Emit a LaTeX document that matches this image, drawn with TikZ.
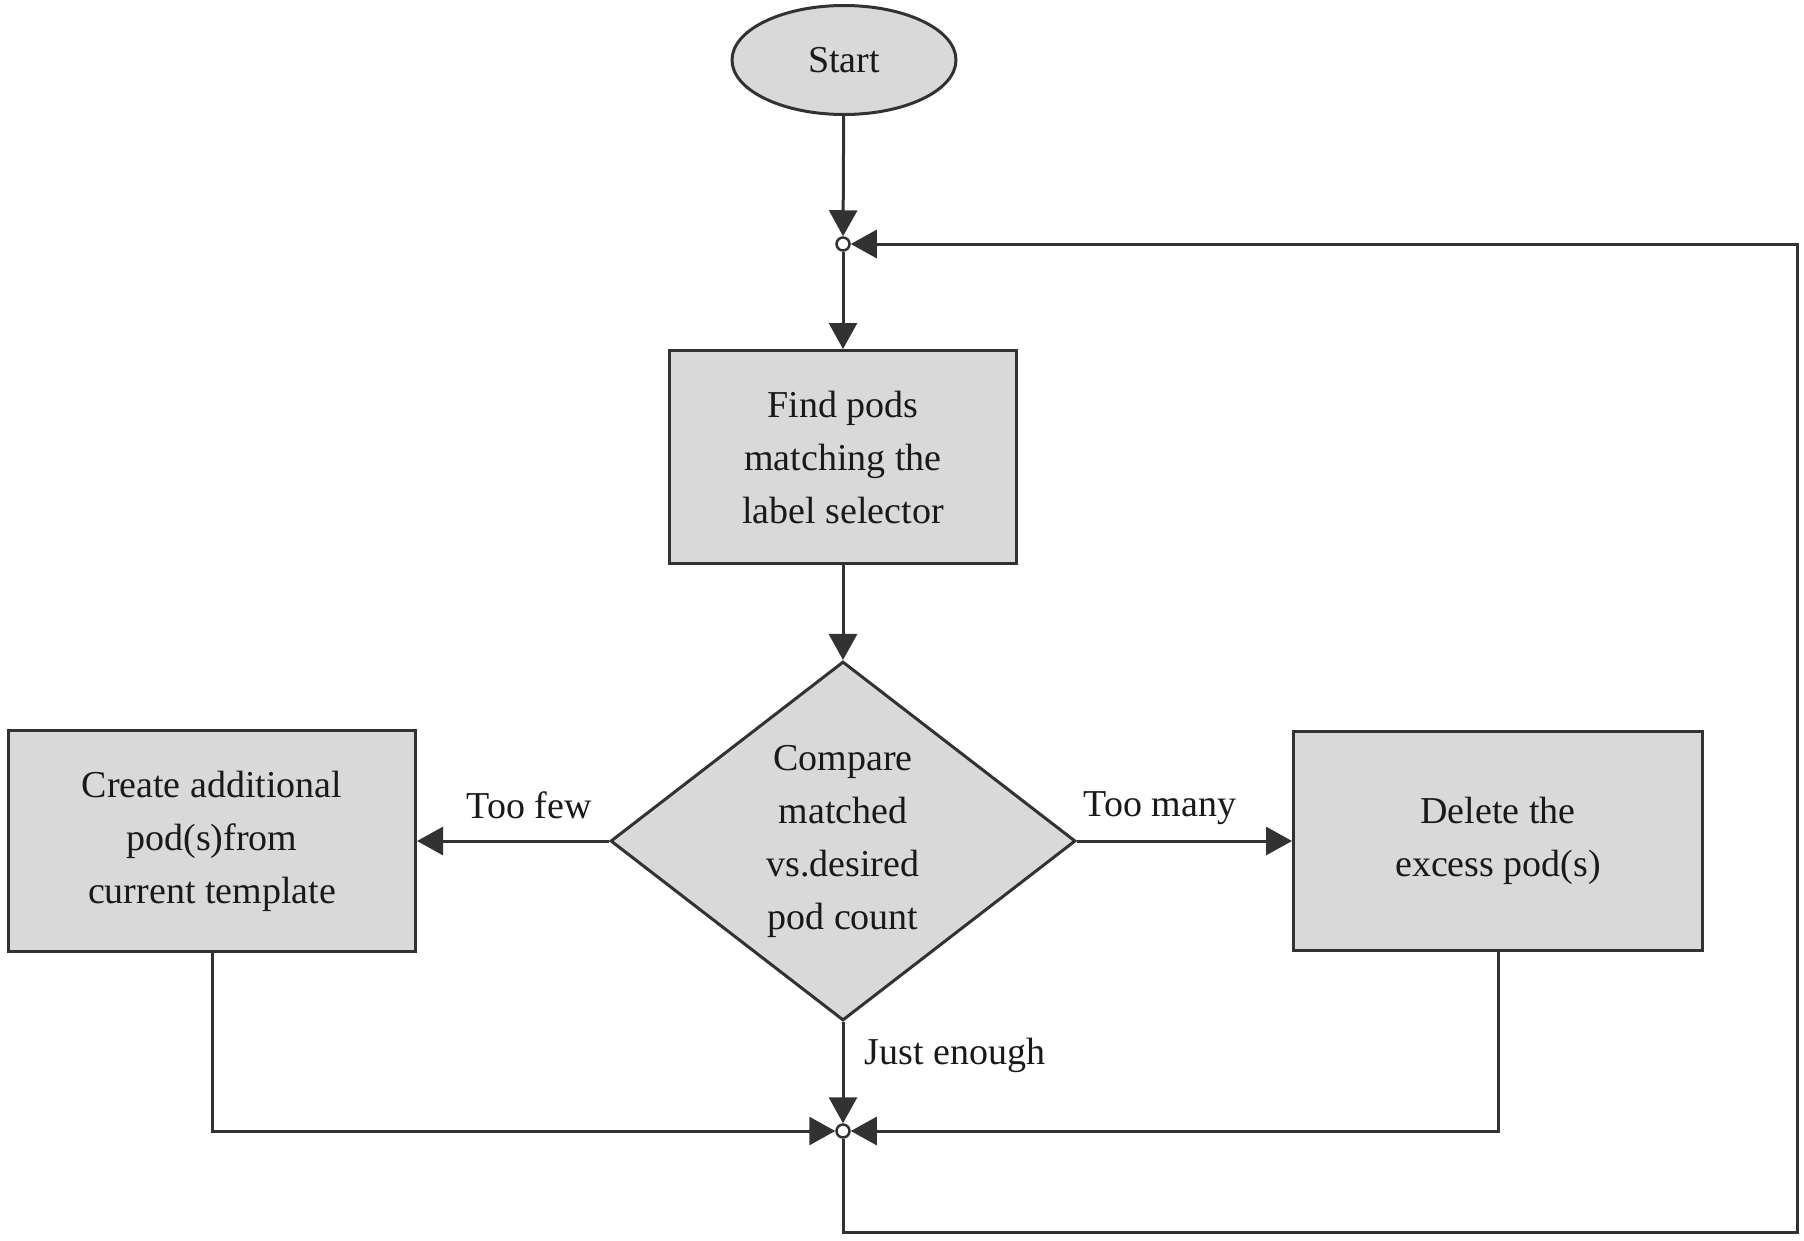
\documentclass[tikz,border=0pt]{standalone}
\usepackage{fontspec}
\setmainfont{Liberation Serif}
\usetikzlibrary{shapes.geometric,arrows.meta}
\definecolor{boxfill}{RGB}{217,217,217}
\definecolor{linec}{RGB}{50,50,50}
\begin{document}
\begin{tikzpicture}[x=1pt,y=-1pt,
  every node/.style={font=\fontsize{38}{53}\selectfont, text=black!90},
  procbox/.style={draw=linec, fill=boxfill, line width=3pt, rectangle, align=center, inner sep=0pt},
  flow/.style={draw=linec, line width=3pt, -{Triangle[length=26pt,width=28pt]}},
  jn/.style={circle, draw=linec, fill=white, line width=2.5pt, inner sep=0pt, minimum size=13pt}]
\useasboundingbox (0,0) rectangle (1804,1240);
\node[ellipse, draw=linec, fill=boxfill, line width=3pt, minimum width=224pt, minimum height=109pt, inner sep=0pt] (start) at (844,60) {Start};
\node[procbox, minimum width=347pt, minimum height=213pt] (find) at (843,457) {Find pods\\matching the\\label selector};
\node[diamond, draw=linec, fill=boxfill, line width=3pt, minimum width=465pt, minimum height=359pt, inner sep=0pt, align=center] (cmp) at (843,841) {Compare\\matched\\vs.desired\\pod count};
\node[procbox, minimum width=407pt, minimum height=221pt] (create) at (212,841) {Create additional\\pod(s)from\\current template};
\node[procbox, minimum width=409pt, minimum height=219pt] (delete) at (1498,841) {Delete the\\excess pod(s)};
\node[jn] (j1) at (843,244) {};
\node[jn] (j2) at (843,1131) {};
\coordinate (loopbot) at (843,1232);
\coordinate (loopcorner) at (1797,1232);
\coordinate (looptop) at (1797,244);
\draw[flow] (start) -- (j1);
\draw[flow] (j1) -- (find);
\draw[flow] (find) -- (cmp);
\draw[flow] (cmp.west) -- (create.east);
\draw[flow] (cmp.east) -- (delete.west);
\draw[flow] (cmp.south) -- (j2);
\draw[flow] (create.south) |- (j2);
\draw[flow] (delete.south) |- (j2);
\draw[flow] (j2) -- (loopbot) -- (loopcorner) -- (looptop) -- (j1);
\node (tfew) at (529,805) {Too few};
\node (tmany) at (1160,808) {Too many};
\node (just) at (955,1055) {Just enough};
\end{tikzpicture}
\end{document}
